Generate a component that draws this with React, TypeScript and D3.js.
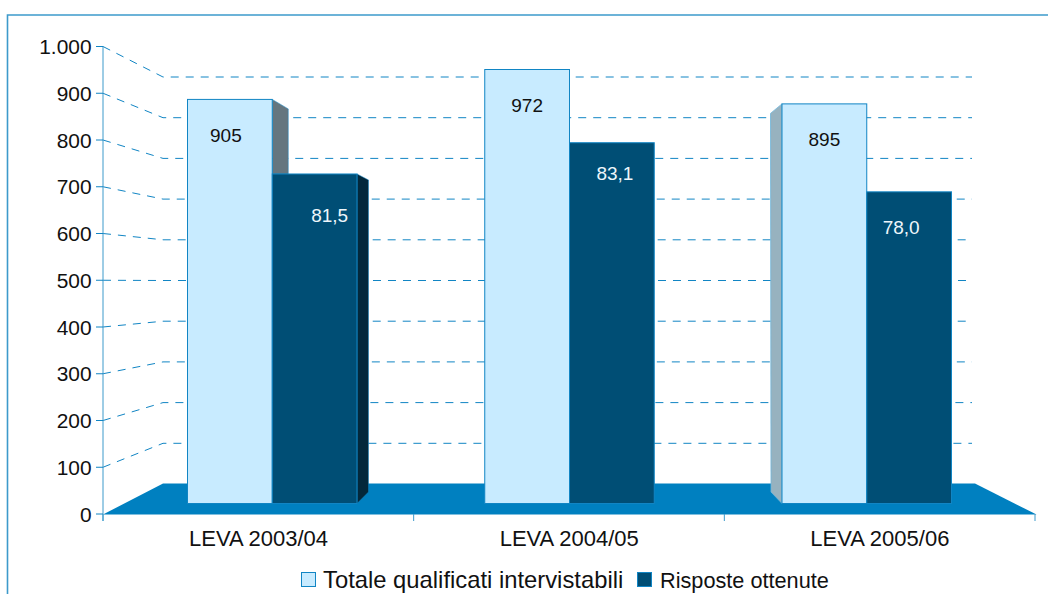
import React from "react";
import * as d3 from "d3";

const categories = ["LEVA 2003/04", "LEVA 2004/05", "LEVA 2005/06"];
const totale = [905, 972, 895];
const risposte = [738, 808, 698];
const totaleLabels = ["905", "972", "895"];
const risposteLabels = ["81,5", "83,1", "78,0"];
const yTicks = [0, 100, 200, 300, 400, 500, 600, 700, 800, 900, 1000];
const tickLabels = ["0", "100", "200", "300", "400", "500", "600", "700", "800", "900", "1.000"];
const legendNames = ["Totale qualificati intervistabili", "Risposte ottenute"];

const C = {
  light: "#c8ebff", dark: "#004e75", floor: "#0080c0", line: "#1185c4", frame: "#3d9acb",
  sideGrey: "#65767f", sideDark: "#03283b", sideLeft: "#97b2bf", text: "#111",
};
const FONT = "'Liberation Sans', Arial, sans-serif";
// hand-placed label nudges relative to each bar
const lightNudge = [[-4, 42.5], [0, 42.5], [0, 42.5]];
const darkNudge = [[15, 48.5], [3, 37], [-8, 42]];

export default function App() {
  const yAxis = d3.scaleLinear().domain([0, 1000]).range([514, 46.5]);
  const yWall = d3.scaleLinear().domain([0, 1000]).range([484, 77]);
  const yBar = d3.scaleLinear().domain([0, 1000]).range([503.5, 57]);
  const xGroup = d3.scaleLinear().domain([0, 3]).range([103, 1035]);
  const barLeft = d3.scaleLinear().domain([0, 1, 2]).range([187.5, 484.75, 782]);
  const BW = 84.75;
  const poly = (p: number[][]) => p.map((a) => a.join(",")).join(" ");

  return (
    <svg width={1048} height={594} style={{ position: "absolute", left: 0, top: 0 }} fontFamily={FONT}>
      <rect width={1048} height={594} fill="#fff" />
      <path d="M7.5,594V15H1048" fill="none" stroke={C.frame} strokeWidth={1.6} />

      {/* floor */}
      <polygon points={poly([[xGroup(0), yAxis(0) + 0.5], [163, yWall(0) - 0.5], [975, yWall(0) - 0.5], [xGroup(3) + 1.5, yAxis(0) + 0.5]])} fill={C.floor} />

      {/* grid */}
      {yTicks.filter((t) => t > 0).map((t) => (
        <g key={t} fill="none" stroke={C.line} strokeWidth={1} strokeDasharray="8 7">
          <polyline points={poly([[103, yAxis(t)], [163, yWall(t)], [972, yWall(t)]])} />
        </g>
      ))}

      {/* axes */}
      <line x1={103} x2={103} y1={yAxis(1000)} y2={521} stroke={C.frame} strokeWidth={1} />
      {yTicks.map((t, i) => (
        <g key={t}>
          <line x1={96} x2={103} y1={yAxis(t)} y2={yAxis(t)} stroke={C.line} strokeWidth={1} />
          <text x={91.5} y={yAxis(t) + 7.5} textAnchor="end" fontSize={20.9} fill={C.text}>{tickLabels[i]}</text>
        </g>
      ))}
      {[0, 1, 2, 3].map((i) => (
        <line key={i} x1={xGroup(i)} x2={xGroup(i)} y1={514} y2={521} stroke={C.frame} strokeWidth={1} />
      ))}

      {/* side faces */}
      <polygon
        points={poly([[barLeft(0) + BW, yBar(totale[0])], [barLeft(0) + BW + 16, yBar(totale[0]) + 9.5], [barLeft(0) + BW + 16, yBar(risposte[0])], [barLeft(0) + BW, yBar(risposte[0])]])}
        fill={C.sideGrey} stroke={C.line} strokeWidth={0.5}
      />
      <polygon
        points={poly([[barLeft(0) + 2 * BW, yBar(risposte[0])], [barLeft(0) + 2 * BW + 11.5, yBar(risposte[0]) + 6], [barLeft(0) + 2 * BW + 11.5, 492], [barLeft(0) + 2 * BW, yBar(0)]])}
        fill={C.sideDark} stroke={C.line} strokeWidth={0.5}
      />
      <polygon
        points={poly([[barLeft(2), yBar(totale[2])], [barLeft(2) - 11.5, yBar(totale[2]) + 9.5], [barLeft(2) - 11, 492], [barLeft(2), yBar(0)]])}
        fill={C.sideLeft} stroke="#6fb6dc" strokeWidth={0.8}
      />

      {/* bars */}
      {categories.map((c, i) => (
        <g key={c}>
          <rect x={barLeft(i)} y={yBar(totale[i])} width={BW} height={yBar(0) - yBar(totale[i])} fill={C.light} stroke={C.line} strokeWidth={1} />
          <rect x={barLeft(i) + BW} y={yBar(risposte[i])} width={BW} height={yBar(0) - yBar(risposte[i])} fill={C.dark} stroke={C.line} strokeWidth={1} />
          <text x={barLeft(i) + BW / 2 + lightNudge[i][0]} y={yBar(totale[i]) + lightNudge[i][1]} textAnchor="middle" fontSize={19} fill={C.text}>{totaleLabels[i]}</text>
          <text x={barLeft(i) + BW * 1.5 + darkNudge[i][0]} y={yBar(risposte[i]) + darkNudge[i][1]} textAnchor="middle" fontSize={19} fill="#eef6fb">{risposteLabels[i]}</text>
          <text x={(xGroup(i) + xGroup(i + 1)) / 2 + 0.2} y={545.5} textAnchor="middle" fontSize={22} fill={C.text}>{c}</text>
        </g>
      ))}

      {/* legend */}
      <rect x={301.5} y={572.5} width={14} height={14} fill={C.light} stroke={C.line} strokeWidth={1} />
      <text x={323} y={587.5} fontSize={23.8} fill={C.text}>{legendNames[0]}</text>
      <rect x={637.5} y={572.5} width={14} height={14} fill={C.dark} stroke={C.line} strokeWidth={1} />
      <text x={660} y={587.5} fontSize={21.7} fill={C.text}>{legendNames[1]}</text>
    </svg>
  );
}
